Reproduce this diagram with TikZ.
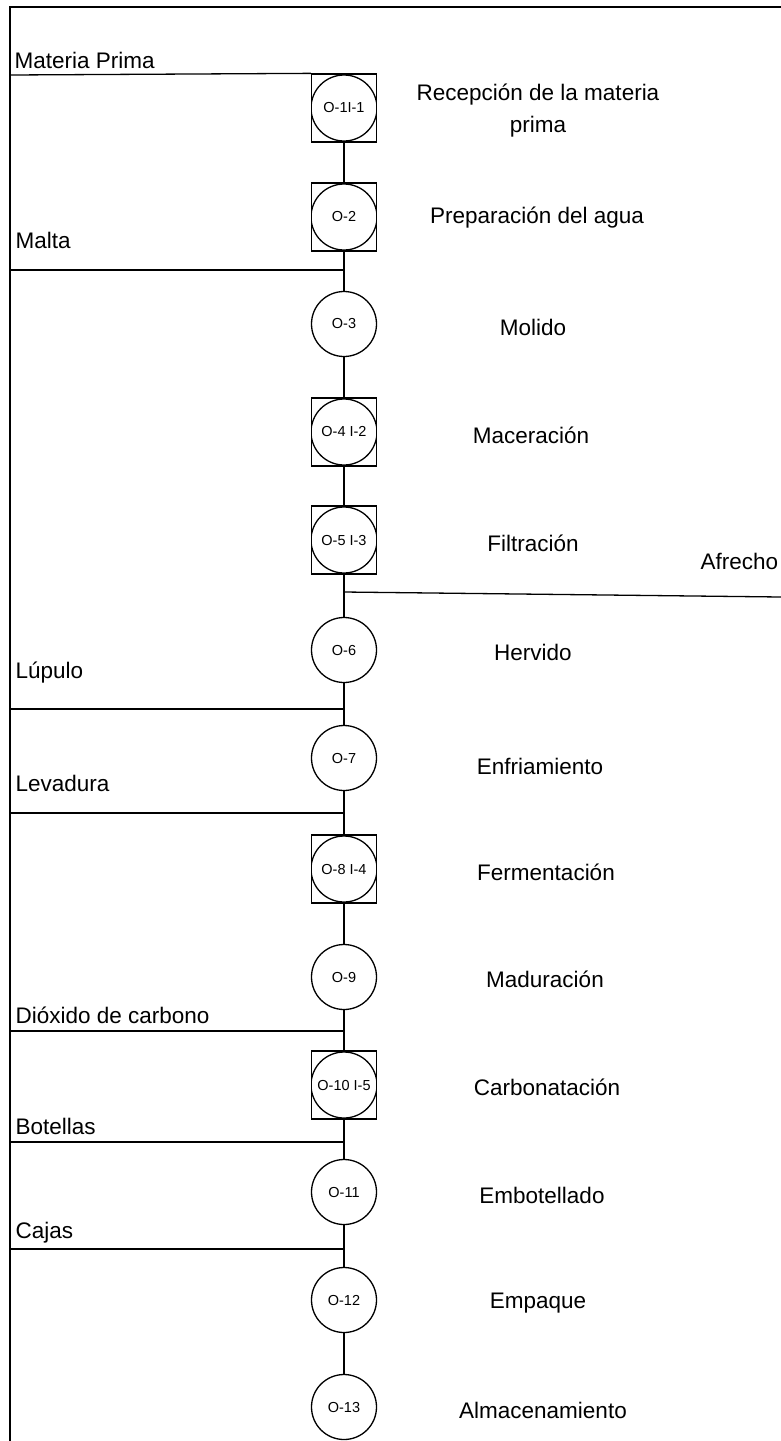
\documentclass[tikz,border=0pt]{standalone}
\usepackage{fontspec}
\setmainfont{Liberation Sans}
\begin{document}
\begin{tikzpicture}[x=1pt,y=-1pt,
  line width=1.3pt,
  op/.style={circle,draw,minimum size=65pt,inner sep=0pt,font=\fontsize{14.5}{16}\selectfont},
  opin/.style={rectangle,draw,minimum width=65pt,minimum height=68pt,inner sep=0pt,
    font=\fontsize{14.5}{16}\selectfont,
    path picture={\draw[line width=1.3pt] (path picture bounding box.center) circle (33pt);}},
  lbl/.style={font=\fontsize{22.5}{32}\selectfont,align=center,inner sep=0pt},
  lft/.style={font=\fontsize{22.5}{26}\selectfont,anchor=west,inner sep=0pt}]
\useasboundingbox (0,0) rectangle (781,1441);
% frame
\draw[line width=2pt] (10,1460) -- (10,7) -- (800,7);

% operation nodes
\node[opin] (o1) at (344,108) {O-1I-1};
\node[opin] (o2) at (344,217) {O-2};
\node[op]   (o3) at (344,324) {O-3};
\node[opin] (o4) at (344,432) {O-4 I-2};
\node[opin] (o5) at (344,540) {O-5 I-3};
\node[op]   (o6) at (344,650) {O-6};
\node[op]   (o7) at (344,758) {O-7};
\node[opin] (o8) at (344,869) {O-8 I-4};
\node[op]   (o9) at (344,977) {O-9};
\node[opin] (o10) at (344,1085) {O-10 I-5};
\node[op]   (o11) at (344,1192) {O-11};
\node[op]   (o12) at (344,1300) {O-12};
\node[op]   (o13) at (344,1407) {O-13};

% vertical connectors
\draw (o1) -- (o2);
\draw (o2) -- (o3);
\draw (o3) -- (o4);
\draw (o4) -- (o5);
\draw (o5) -- (o6);
\draw (o6) -- (o7);
\draw (o7) -- (o8);
\draw (o8) -- (o9);
\draw (o9) -- (o10);
\draw (o10) -- (o11);
\draw (o11) -- (o12);
\draw (o12) -- (o13);

% step labels
\node[lbl] (t1) at (538,111) {Recepción de la materia\\prima};
\node[lbl] (t2) at (537,218) {Preparación del agua};
\node[lbl] (t3) at (533,327) {Molido};
\node[lbl] (t4) at (531,435) {Maceración};
\node[lbl] (t5) at (533,543) {Filtración};
\node[lbl] (t6) at (533,652) {Hervido};
\node[lbl] (t7) at (540,766) {Enfriamiento};
\node[lbl] (t8) at (546,872) {Fermentación};
\node[lbl] (t9) at (545,979) {Maduración};
\node[lbl] (t10) at (547,1087) {Carbonatación};
\node[lbl] (t11) at (542,1195) {Embotellado};
\node[lbl] (t12) at (538,1303) {Empaque};
\node[lbl] (t13) at (543,1410) {Almacenamiento};

% inputs
\node[lft] (mp) at (14,60) {Materia Prima};
\coordinate (mpa) at (10,75);
\draw (mpa) -- (o1.north west);

\node[lft] (ma) at (15,240) {Malta};
\coordinate (maa) at (10,270);
\draw (maa) -- (maa -| o2.south);

\node[lft] (lu) at (15,673) {Lúpulo};
\coordinate (lua) at (10,709);
\draw (lua) -- (lua -| o6.south);

\node[lft] (le) at (15,783) {Levadura};
\coordinate (lea) at (10,813);
\draw (lea) -- (lea -| o7.south);

\node[lft] (di) at (15,1015) {Dióxido de carbono};
\coordinate (dia) at (10,1031);
\draw (dia) -- (dia -| o9.south);

\node[lft] (bo) at (15,1126) {Botellas};
\coordinate (boa) at (10,1142);
\draw (boa) -- (boa -| o10.south);

\node[lft] (ca) at (15,1233) {Cajas};
\coordinate (caa) at (10,1249);
\draw (caa) -- (caa -| o11.south);

% output
\node[lft] (af) at (700,561) {Afrecho};
\coordinate (afb) at (344,592);
\coordinate (afa) at (781,597);
\draw (afb) -- (afa);
\end{tikzpicture}
\end{document}
